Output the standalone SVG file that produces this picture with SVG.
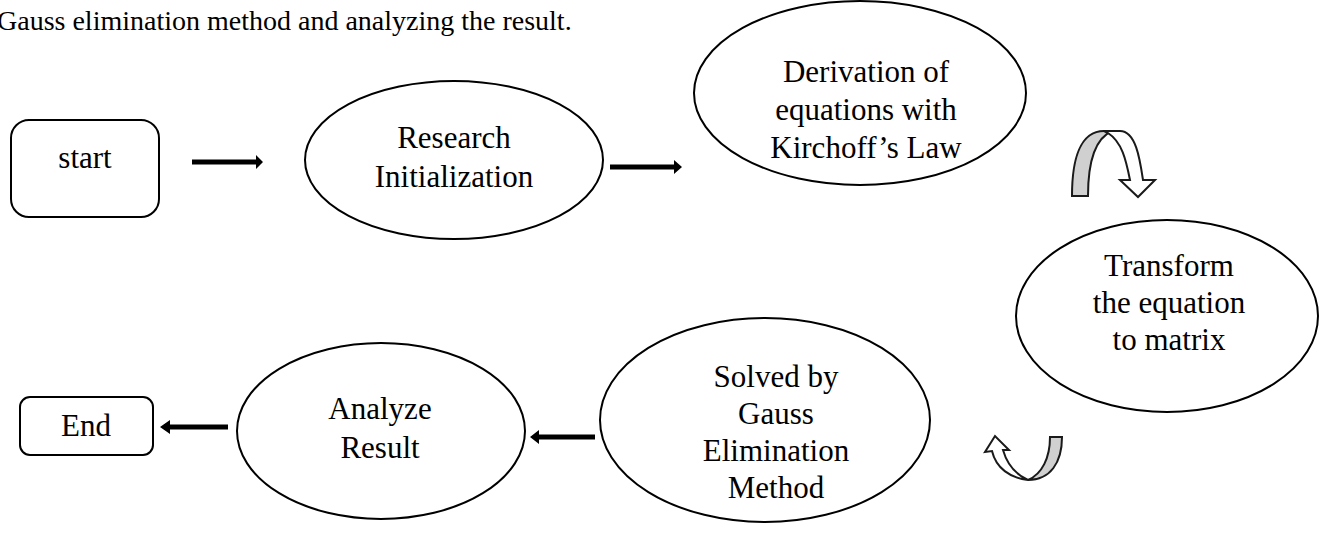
<svg xmlns="http://www.w3.org/2000/svg" width="1331" height="554" viewBox="0 0 1331 554">
<defs>
<style>
text{font-family:"Liberation Serif","Times New Roman",serif;font-size:31px;fill:#000;text-anchor:middle}
.title{text-anchor:start;font-size:28px}
.node{fill:#fff;stroke:#000;stroke-width:2}
.bar{fill:#000}
.curv{stroke:#1a1a1a;stroke-width:2;stroke-linejoin:miter}
</style>
</defs>
<rect width="1331" height="554" fill="#fff"/>
<text class="title" x="-3" y="30">Gauss elimination method and analyzing the result.</text>
<g id="n-start"><rect class="node" x="11" y="120" width="148" height="97" rx="18"/><text x="85" y="168">start</text></g>
<g id="n-research"><ellipse class="node" cx="454" cy="160" rx="149" ry="79"/><text x="454" y="148">Research</text><text x="454" y="187">Initialization</text></g>
<g id="n-derivation"><ellipse class="node" cx="860" cy="93" rx="166" ry="92"/><text x="866" y="82">Derivation of</text><text x="866" y="120">equations with</text><text x="866" y="158">Kirchoff’s Law</text></g>
<g id="n-transform"><ellipse class="node" cx="1167" cy="316" rx="151" ry="96"/><text x="1169" y="276">Transform</text><text x="1169" y="313">the equation</text><text x="1169" y="350">to matrix</text></g>
<g id="n-solved"><ellipse class="node" cx="765" cy="420" rx="165" ry="102"/><text x="776" y="387">Solved by</text><text x="776" y="424">Gauss</text><text x="776" y="461">Elimination</text><text x="776" y="498">Method</text></g>
<g id="n-analyze"><ellipse class="node" cx="381" cy="431" rx="144" ry="88"/><text x="380" y="419">Analyze</text><text x="380" y="458">Result</text></g>
<g id="n-end"><rect class="node" x="20" y="397" width="133" height="58" rx="10"/><text x="86" y="436">End</text></g>
<g id="connectors">
<path class="bar" d="M192 159.5H256V155L263 162L256 169V164.5H192Z"/>
<path class="bar" d="M610 164.5H674V160L682 167L674 174V169.5H610Z"/>
<path class="bar" d="M595 434.5H539V430L530 437L539 444V439.5H595Z"/>
<path class="bar" d="M228 424.5H170V420L160 427L170 434V429.5H228Z"/>
<path class="curv" fill="#d0d0d0" d="M1072 196C1072 160 1080 131 1104 131L1112 131C1096 138 1088 160 1088 196Z"/>
<path class="curv" fill="#fff" d="M1104 131L1120 131C1136 131 1140 160 1143 180L1155 180L1138 197L1120 180L1130 180C1126 160 1122 142 1108 133Z"/>
<path class="curv" fill="#d0d0d0" d="M1050 437L1062 437C1062 463 1050 480 1028 480C1042 474 1050 458 1050 437Z"/>
<path class="curv" fill="#fff" d="M1028 480C1010 478 996 468 992 451L985 452L995 436L1009 450L1003 450C1007 464 1015 474 1028 480Z"/>
</g>
</svg>
